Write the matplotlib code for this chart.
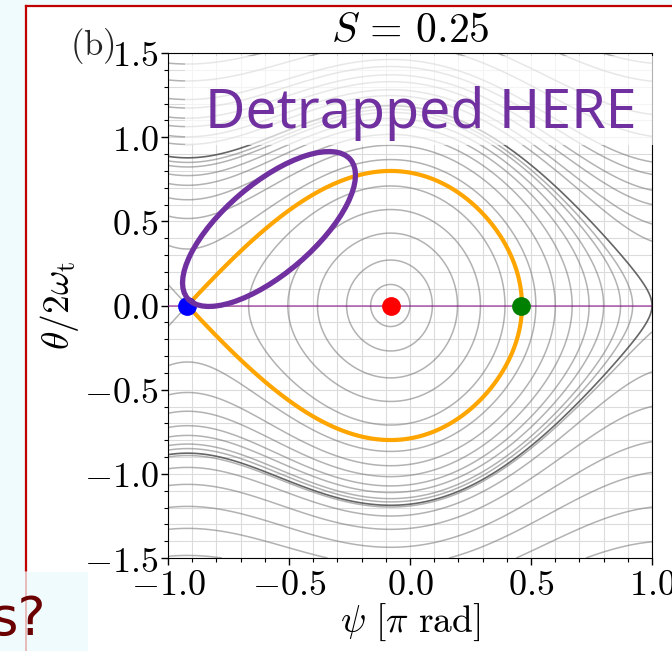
import numpy as np
import matplotlib
matplotlib.use('Agg')
import matplotlib.pyplot as plt
from matplotlib.patches import Ellipse, Rectangle
from matplotlib.lines import Line2D
from matplotlib.ticker import MultipleLocator, FuncFormatter

plt.rcParams['mathtext.fontset'] = 'cm'
plt.rcParams['font.family'] = 'serif'
plt.rcParams['font.serif'] = ['DejaVu Serif']
plt.rcParams['contour.negative_linestyle'] = 'solid'

#--------
#values

S = 0.25

#trapped orbits: half height at the O-point [theta/2w_t]
y_trapped = [0.125, 0.27, 0.43, 0.57, 0.71]
#reflected orbits: right turning point on the psi axis [pi rad]
psi_turn = [0.52, 0.60, 0.67, 0.74, 0.80, 0.87, 0.92]
psi_turn_dark = [1.0]
#passing orbits: height where they cross psi = -1
y_pass_top = [0.965, 1.01, 1.07, 1.12, 1.18, 1.23, 1.34, 1.44, 1.60, 1.69]
y_pass_bot = [-0.90, -0.97, -1.07, -1.20, -1.33, -1.49, -1.66]

#fixed points (X-point, O-point, separatrix turning point)
psi_pts = [-0.92, -0.08, 0.46]
pt_colors = ['blue', 'red', 'green']

#--------
#hamiltonian of the tilted pendulum
def ham(psi, y):
    return 2*y**2 - np.cos(np.pi*psi) + S*np.pi*psi

psi_X, psi_O = psi_pts[0], psi_pts[1]
E_sep = ham(psi_X, 0.0)
lev_in = sorted([ham(psi_O, v) for v in y_trapped] + [ham(p, 0.0) for p in psi_turn] + [E_sep])
lev_dark = [ham(p, 0.0) for p in psi_turn_dark]
lev_top = sorted([ham(-1.0, v) for v in y_pass_top])
lev_bot = sorted([ham(-1.0, v) for v in y_pass_bot])

psi = np.linspace(-1, 1, 801)
yy = np.linspace(-1.5, 1.5, 901)
P, Y = np.meshgrid(psi, yy)
H = ham(P, Y)
H_top = np.where(Y >= 0, H, np.nan)
H_bot = np.where(Y <= 0, H, np.nan)
H_loop = np.where(P >= psi_X, H, np.nan)

#--------
#figure (slide background)
W, Hpx = 672, 651
fig = plt.figure(figsize=(W/100, Hpx/100), dpi=100)
fig.patch.set_facecolor('#effbfc')

def fx(px):
    return px/W
def fy(py):
    return 1 - py/Hpx

fig.add_artist(Rectangle((fx(26), 0), 1, fy(6), transform=fig.transFigure,
                         facecolor='white', edgecolor='none', zorder=-10))
fig.add_artist(Line2D([fx(26), fx(26)], [fy(571), fy(6)], transform=fig.transFigure,
                      color='#c00000', lw=1.6, zorder=-5))
fig.add_artist(Line2D([fx(26), 1], [fy(6), fy(6)], transform=fig.transFigure,
                      color='#c00000', lw=1.6, zorder=-5))
fig.add_artist(Rectangle((0, 0), fx(88), fy(572), transform=fig.transFigure,
                         facecolor='#effbfc', edgecolor='none', zorder=-4))
fig.add_artist(Line2D([fx(26), fx(26)], [0, fy(572)], transform=fig.transFigure,
                      color='#e8b0b0', lw=1.2, zorder=-3))
fig.text(fx(46), fy(635), 's?', ha='right', va='baseline', fontsize=38,
         color='#6b0000', family=['Liberation Sans Narrow', 'DejaVu Sans'])

#--------
#phase portrait
ax = fig.add_axes([fx(168), fy(558), (652-168)/W, (558-53)/Hpx])

ax.contour(P, Y, H, levels=lev_in, colors='0.45', linewidths=1.1, alpha=0.55)
ax.contour(P, Y, H, levels=lev_dark, colors='0.25', linewidths=1.2, alpha=0.8)
ax.contour(P, Y, H_top, levels=lev_top, colors='0.45', linewidths=1.1, alpha=0.55)
ax.contour(P, Y, H_bot, levels=lev_bot, colors='0.45', linewidths=1.1, alpha=0.55)
ax.contour(P, Y, H_loop, levels=[E_sep], colors='orange', linewidths=3.0, zorder=3)

ax.axhline(0, color='purple', lw=1.4, alpha=0.5, zorder=3)
for p, c in zip(psi_pts, pt_colors):
    ax.plot(p, 0, 'o', color=c, ms=12.5, zorder=4)

ax.set_xlim(-1, 1)
ax.set_ylim(-1.5, 1.5)
ax.xaxis.set_major_locator(MultipleLocator(0.5))
ax.yaxis.set_major_locator(MultipleLocator(0.5))
ax.xaxis.set_minor_locator(MultipleLocator(0.1))
ax.yaxis.set_minor_locator(MultipleLocator(0.1))
fmt = FuncFormatter(lambda v, p: r'$%.1f$' % v)
ax.xaxis.set_major_formatter(fmt)
ax.yaxis.set_major_formatter(fmt)
ax.tick_params(which='major', direction='out', length=5, width=1, labelsize=26, pad=2)
ax.tick_params(which='minor', direction='out', length=3, width=0.8)
ax.grid(True, which='both', color='0.86', lw=0.8)
ax.set_axisbelow(True)

ax.set_xlabel(r'$\psi\ [\pi\ {\rm rad}]$', fontsize=27, labelpad=0)
ax.set_ylabel(r'$\theta/2\omega_{\rm t}$', fontsize=27, labelpad=2)
ax.set_title(r'$S\, =\, 0.25$', fontsize=30, pad=8)
fig.text(fx(70), fy(55), r'$\mathrm{(b)}$', fontsize=25, va='baseline', color='0.15')

#--------
#slide annotation
fig.add_artist(Rectangle((fx(185), fy(145)), (662-185)/W, (145-56)/Hpx,
                         transform=fig.transFigure, facecolor='white', alpha=0.7,
                         edgecolor='none', zorder=5))
fig.text(fx(421), fy(128), 'Detrapped HERE', ha='center', va='baseline',
         fontsize=40, color='#7030a0', family='Noto Sans', zorder=6)
fig.add_artist(Ellipse((2.69, (Hpx-229)/100), 2.14, 0.90, angle=40.5,
                       transform=fig.dpi_scale_trans, fill=False,
                       edgecolor='#7030a0', lw=3.8, zorder=7))

fig.savefig('out.png', dpi=100, facecolor=fig.get_facecolor())
